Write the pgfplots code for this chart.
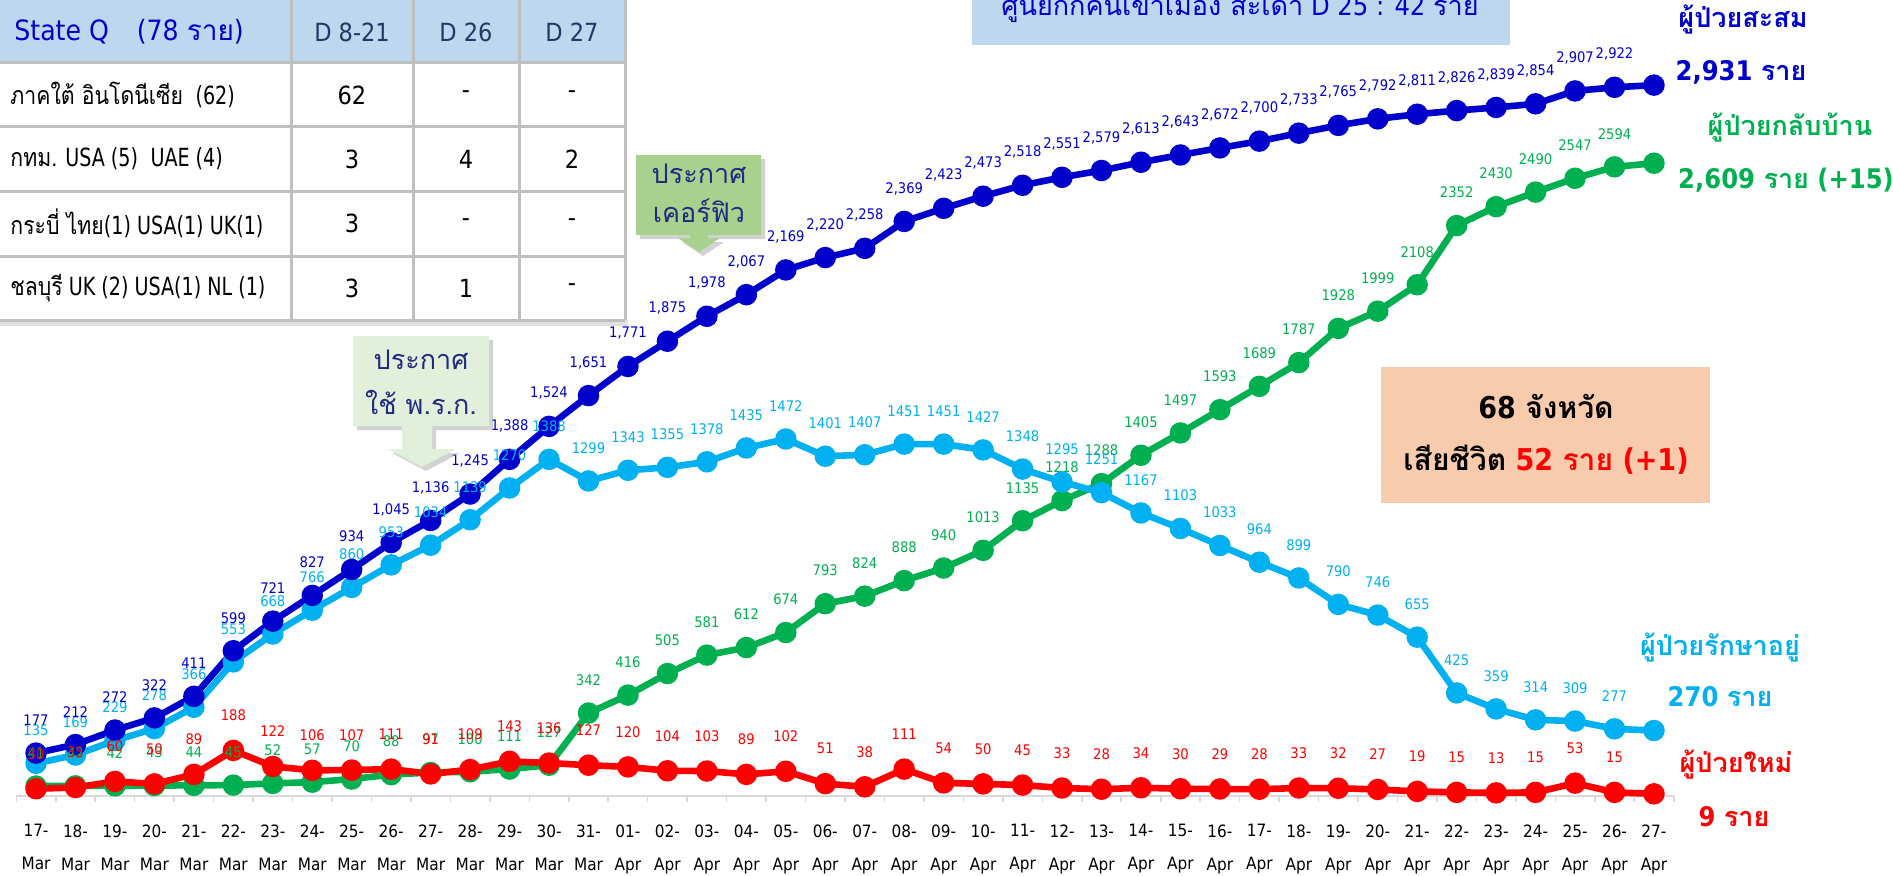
\documentclass[border=0pt]{standalone}
\usepackage{pgfplots}
\pgfplotsset{compat=1.18}
\usepackage{pgfplotstable}
\usepackage{fontspec}
\usetikzlibrary{shadows}
\setmainfont{DejaVu Sans Condensed}
\newfontfamily\thai[Script=Thai]{Loma}
\newfontfamily\tblL[FakeStretch=0.85]{DejaVu Sans Condensed}
\newfontfamily\tblT[Script=Thai,FakeStretch=0.85]{Loma}

\definecolor{dblue}{HTML}{0000CC}
\definecolor{lblue}{HTML}{00B0F0}
\definecolor{cgreen}{HTML}{00B050}
\definecolor{cred}{HTML}{FF0000}
\definecolor{navy}{HTML}{1F2A80}
\definecolor{hdrblue}{HTML}{BDD7EE}
\definecolor{tnavy}{HTML}{203864}
\definecolor{callA}{HTML}{A9D18E}
\definecolor{callB}{HTML}{E2EFDA}
\definecolor{peach}{HTML}{F8CBAD}

\newcommand\lblfont{\fontsize{7.3}{8}\selectfont}
\newcommand\bigfont{\fontsize{13.5}{16}\selectfont}
\newcommand\boxfont{\fontsize{15}{18}\selectfont}
\newcommand\tblfont{\fontsize{12.5}{15}\selectfont}
\newcommand\callfont{\fontsize{13.5}{16}\selectfont\thai}

\pgfplotstableread{
idx total active recov new
0 177 135 41 30
1 212 169 42 35
2 272 229 42 60
3 322 278 43 50
4 411 366 44 89
5 599 553 45 188
6 721 668 52 122
7 827 766 57 106
8 934 860 70 107
9 1045 953 88 111
10 1136 1034 97 91
11 1245 1139 100 109
12 1388 1270 111 143
13 1524 1388 127 136
14 1651 1299 342 127
15 1771 1343 416 120
16 1875 1355 505 104
17 1978 1378 581 103
18 2067 1435 612 89
19 2169 1472 674 102
20 2220 1401 793 51
21 2258 1407 824 38
22 2369 1451 888 111
23 2423 1451 940 54
24 2473 1427 1013 50
25 2518 1348 1135 45
26 2551 1295 1218 33
27 2579 1251 1288 28
28 2613 1167 1405 34
29 2643 1103 1497 30
30 2672 1033 1593 29
31 2700 964 1689 28
32 2733 899 1787 33
33 2765 790 1928 32
34 2792 746 1999 27
35 2811 655 2108 19
36 2826 425 2352 15
37 2839 359 2430 13
38 2854 314 2490 15
39 2907 309 2547 53
40 2922 277 2594 15
41 2931 270 2609 9
}\data

\begin{document}
\begin{tikzpicture}
\path[use as bounding box] (0,0) rectangle (946.5pt,437.5pt);
\begin{axis}[
  at={(8.15pt,39.5pt)}, anchor=south west,
  scale only axis, width=828.7pt, height=398pt,
  xmin=-0.5, xmax=41.5, ymin=0, ymax=3282,
  clip=false,
  axis y line=none, axis x line*=bottom,
  x axis line style={draw=black!15, line width=1.2pt},
  xtick={0,...,41},
  major tick length=0pt,
  minor xtick={-0.5,0.5,...,41.5},
  minor tick length=3pt,
  tick align=outside,
  minor tick style={draw=black!15, line width=0.8pt},
  xticklabels={{17-\\Mar},{18-\\Mar},{19-\\Mar},{20-\\Mar},{21-\\Mar},{22-\\Mar},{23-\\Mar},{24-\\Mar},{25-\\Mar},{26-\\Mar},{27-\\Mar},{28-\\Mar},{29-\\Mar},{30-\\Mar},{31-\\Mar},{01-\\Apr},{02-\\Apr},{03-\\Apr},{04-\\Apr},{05-\\Apr},{06-\\Apr},{07-\\Apr},{08-\\Apr},{09-\\Apr},{10-\\Apr},{11-\\Apr},{12-\\Apr},{13-\\Apr},{14-\\Apr},{15-\\Apr},{16-\\Apr},{17-\\Apr},{18-\\Apr},{19-\\Apr},{20-\\Apr},{21-\\Apr},{22-\\Apr},{23-\\Apr},{24-\\Apr},{25-\\Apr},{26-\\Apr},{27-\\Apr}},
  xticklabel style={font=\fontsize{8.5}{16.5}\selectfont, align=center, anchor=north, inner sep=0pt, yshift=-14pt},
  /pgf/number format/assume math mode=true,
  every axis plot/.append style={line width=3.3pt, mark size=3.7pt},
]
\addplot[cgreen, mark=*] table[x=idx,y=recov]{\data};
\addplot[lblue, mark=*] table[x=idx,y=active]{\data};
\addplot[dblue, mark=*] table[x=idx,y=total]{\data};
\addplot[cred, mark=*] table[x=idx,y=new]{\data};

\addplot[draw=none, mark=none, restrict x to domain=0:40, point meta=y,
  nodes near coords={\pgfmathprintnumber[1000 sep={}]{\pgfplotspointmeta}},
  every node near coord/.append style={font=\lblfont, text=cgreen, anchor=center, yshift=16.5pt, inner sep=0pt}]
  table[x=idx,y=recov]{\data};
\addplot[draw=none, mark=none, restrict x to domain=0:40, point meta=y,
  nodes near coords={\pgfmathprintnumber[1000 sep={}]{\pgfplotspointmeta}},
  every node near coord/.append style={font=\lblfont, text=lblue, anchor=center, yshift=16.5pt, inner sep=0pt}]
  table[x=idx,y=active]{\data};
\addplot[draw=none, mark=none, restrict x to domain=0:40, point meta=y,
  nodes near coords={\pgfmathprintnumber[1000 sep={,}]{\pgfplotspointmeta}},
  every node near coord/.append style={font=\lblfont, text=dblue, anchor=center, yshift=16.5pt, inner sep=0pt}]
  table[x=idx,y=total]{\data};
\addplot[draw=none, mark=none, restrict x to domain=0:40, point meta=y,
  nodes near coords={\pgfmathprintnumber[1000 sep={}]{\pgfplotspointmeta}},
  every node near coord/.append style={font=\lblfont, text=cred, anchor=center, yshift=17.5pt, inner sep=0pt}]
  table[x=idx,y=new]{\data};
\end{axis}

\begin{scope}[x=0.5pt,y=-0.5pt,yshift=437.5pt]
% table
\fill[black!12] (-5,320) rectangle (628,326);
\fill[hdrblue] (-5,-5) rectangle (625,63);
\fill[white] (-5,63) rectangle (625,320);
\foreach \yy in {63,127,191,256,320} \draw[black!25, line width=1.5pt] (-5,\yy) -- (625,\yy);
\foreach \xx in {291,413,519,625} \draw[black!25, line width=1.5pt] (\xx,-5) -- (\xx,320);
\node[anchor=west, inner sep=0pt, text=dblue, font=\fontsize{14}{16}\selectfont] at (14,32) {State Q\quad(78 {\thai ราย})};
\node[text=tnavy, font=\tblfont] at (352,32) {D 8-21};
\node[text=tnavy, font=\tblfont] at (466,32) {D 26};
\node[text=tnavy, font=\tblfont] at (572,32) {D 27};
\node[anchor=west, inner sep=0pt, font=\tblfont\tblL] at (10,95) {{\tblT ภาคใต้ อินโดนีเซีย}\enspace(62)};
\node[anchor=west, inner sep=0pt, font=\tblfont\tblL] at (10,159) {{\tblT กทม.} USA (5)\enspace UAE (4)};
\node[anchor=west, inner sep=0pt, font=\tblfont\tblL] at (10,223) {{\tblT กระบี่ ไทย}(1) USA(1) UK(1)};
\node[anchor=west, inner sep=0pt, font=\tblfont\tblL] at (10,288) {{\tblT ชลบุรี} UK (2) USA(1) NL (1)};
\node[font=\tblfont] at (352,95) {62};
\node[font=\tblfont] at (466,95) {-};
\node[font=\tblfont] at (572,95) {-};
\node[font=\tblfont] at (352,159) {3};
\node[font=\tblfont] at (466,159) {4};
\node[font=\tblfont] at (572,159) {2};
\node[font=\tblfont] at (352,223) {3};
\node[font=\tblfont] at (466,223) {-};
\node[font=\tblfont] at (572,223) {-};
\node[font=\tblfont] at (352,288) {3};
\node[font=\tblfont] at (466,288) {1};
\node[font=\tblfont] at (572,288) {-};

% banner
\fill[hdrblue] (972,-10) rectangle (1510,45);
\node[anchor=base, text=dblue, font=\bigfont] at (1240,16) {{\thai ศูนย์กักคนเข้าเมือง สะเดา} D 25 : 42 {\thai ราย}};

% callout 1
\fill[callA, drop shadow={shadow xshift=2pt, shadow yshift=-2pt, fill=black!35}]
  (636,155) -- (761,155) -- (761,235) -- (708,235) -- (708,238) -- (720,238) -- (699,252) -- (678,238) -- (690,238) -- (690,235) -- (636,235) -- cycle;
\node[text=navy, font=\callfont] at (699,174) {ประกาศ};
\node[text=navy, font=\callfont] at (699,211) {เคอร์ฟิว};

% callout 2
\fill[callB, drop shadow={shadow xshift=2pt, shadow yshift=-2pt, fill=black!35}]
  (353,336) -- (489,336) -- (489,426) -- (432,426) -- (432,449) -- (456,449) -- (422,467) -- (388,449) -- (402,449) -- (402,426) -- (353,426) -- cycle;
\node[text=navy, font=\callfont] at (421,360) {ประกาศ};
\node[text=navy, font=\callfont] at (421,402) {ใช้ พ.ร.ก.};

% provinces / deaths box
\fill[peach] (1381,367) rectangle (1710,503);
\node[font=\boxfont\bfseries] at (1546,407) {68 {\thai จังหวัด}};
\node[font=\boxfont\bfseries] at (1546,460) {{\thai เสียชีวิต} \textcolor{cred}{52 {\thai ราย} (+1)}};

% right labels
\node[text=dblue, font=\bigfont\bfseries\thai] at (1743,20) {ผู้ป่วยสะสม};
\node[text=dblue, font=\bigfont\bfseries] at (1741,72) {2,931 {\thai ราย}};
\node[text=cgreen, font=\bigfont\bfseries\thai] at (1790,128) {ผู้ป่วยกลับบ้าน};
\node[text=cgreen, font=\bigfont\bfseries] at (1786,180) {2,609 {\thai ราย} (+15)};
\node[text=lblue, font=\bigfont\bfseries\thai] at (1720,648) {ผู้ป่วยรักษาอยู่};
\node[text=lblue, font=\bigfont\bfseries] at (1720,697) {270 {\thai ราย}};
\node[text=cred, font=\bigfont\bfseries\thai] at (1736,765) {ผู้ป่วยใหม่};
\node[text=cred, font=\bigfont\bfseries] at (1734,817) {9 {\thai ราย}};
\end{scope}
\end{tikzpicture}
\end{document}
